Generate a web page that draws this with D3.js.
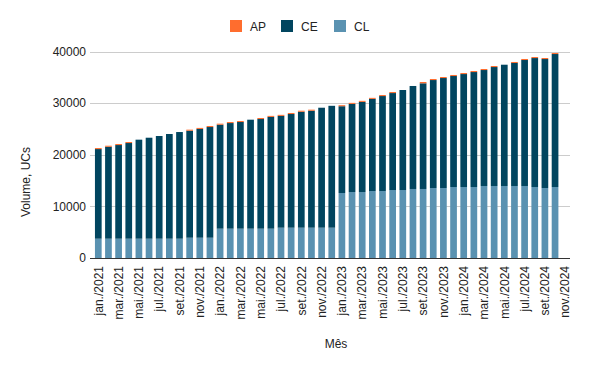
<!DOCTYPE html>
<meta charset="utf-8">
<style>
body { margin: 0; background: #fff; }
svg { font-family: "Liberation Sans", Arial, sans-serif; }
.grid line { stroke: #cccccc; shape-rendering: crispEdges; }
.grid path { stroke-width: 0; }
.tick text { fill: #222; font-size: 12px; }
.title { fill: #222; font-size: 12px; }
.legend text { fill: #222; font-size: 12px; }
</style>
<body>
<script src="https://d3js.org/d3.v7.min.js"></script>
<script>

var months = ["jan.", "fev.", "mar.", "abr.", "mai.", "jun.", "jul.", "ago.", "set.", "out.", "nov.", "dez."];
var years = [2021, 2022, 2023, 2024];

var categories = [];
years.forEach(function(y) {
    months.forEach(function(m) { categories.push(m + "/" + y); });
});
categories = categories.slice(0, 47); // jan./2021 .. nov./2024

// totals (nov./2024 has no data)
var total = [21300, 21750, 22080, 22470, 22920, 23300, 23630, 24020, 24400, 24860, 25200, 25570,
             26020, 26340, 26540, 26790, 27120, 27530, 27730, 28090, 28530, 28730, 29110, 29480,
             29600, 30050, 30440, 31020, 31570, 32150, 32540, 33320, 34090, 34670, 35060, 35450,
             35830, 36220, 36610, 37190, 37440, 37970, 38550, 38930, 38740, 39710, 0];

var CL = [3740, 3740, 3740, 3740, 3740, 3740, 3740, 3740, 3740, 3930, 3930, 3930,
          5680, 5680, 5680, 5680, 5680, 5680, 5870, 5870, 5870, 5870, 5870, 5870,
          12590, 12780, 12780, 12980, 12980, 13170, 13170, 13370, 13370, 13560, 13560, 13750,
          13750, 13750, 13950, 13950, 13950, 13950, 13950, 13750, 13560, 13750, 0];

var AP = [200, 200, 200, 200, 0, 0, 0, 0, 0, 200, 200, 200,
          200, 200, 200, 0, 200, 200, 200, 200, 200, 200, 0, 0,
          200, 200, 200, 200, 200, 200, 0, 0, 250, 200, 200, 200,
          200, 200, 200, 200, 0, 200, 200, 200, 200, 200, 0];

var CE = total.map(function(t, i) { return t === 0 ? 0 : t - CL[i] - AP[i]; });

var yTicks = [0, 10000, 20000, 30000, 40000];
var series = ["CL", "CE", "AP"];
var legendOrder = ["AP", "CE", "CL"];
var colors = {AP: "#ff6d2e", CE: "#01455f", CL: "#5a92b1"};

var data = categories.map(function(c, i) {
    return {month: c, CL: CL[i], CE: CE[i], AP: AP[i]};
});

var width = 600, height = 371;
var plot = {left: 90, right: 570, top: 51.5, bottom: 258};

var svg = d3.select("body").append("svg")
    .attr("width", width)
    .attr("height", height);

var x = d3.scaleBand()
    .domain(categories)
    .range([91.5, 572])
    .paddingInner(0.34)
    .paddingOuter(0.34);

var y = d3.scaleLinear()
    .domain([0, 40000])
    .range([plot.bottom, plot.top]);

// gridlines + y labels
svg.append("g")
    .attr("class", "grid")
    .attr("transform", "translate(" + plot.left + ",0)")
    .call(d3.axisLeft(y)
        .tickValues(yTicks)
        .tickSize(-(plot.right - plot.left))
        .tickPadding(5)
        .tickFormat(d3.format("d")))
    .call(function(g) { g.selectAll(".tick text").attr("x", -4); });

var stack = d3.stack().keys(series)(data);

svg.append("g")
    .selectAll("g")
    .data(stack)
    .enter().append("g")
    .attr("fill", function(d) { return colors[d.key]; })
    .selectAll("rect")
    .data(function(d) { return d; })
    .enter().append("rect")
    .attr("x", function(d) { return x(d.data.month); })
    .attr("width", x.bandwidth())
    .attr("y", function(d) { return y(d[1]); })
    .attr("height", function(d) { return y(d[0]) - y(d[1]); });

// baseline
svg.append("line")
    .attr("x1", plot.left)
    .attr("x2", plot.right)
    .attr("y1", plot.bottom + 0.5)
    .attr("y2", plot.bottom + 0.5)
    .attr("stroke", "#333")
    .attr("stroke-width", 1);

// x labels, every other month
svg.append("g")
    .selectAll("text")
    .data(categories.filter(function(d, i) { return i % 2 === 0; }))
    .enter().append("text")
    .attr("class", "tick")
    .attr("transform", function(d) {
        return "translate(" + (x(d) + x.bandwidth() / 2) + ",266) rotate(-90)";
    })
    .attr("dy", "0.35em")
    .attr("text-anchor", "end")
    .style("fill", "#222")
    .style("font-size", "12px")
    .text(function(d) { return d; });

// axis titles
svg.append("text")
    .attr("class", "title")
    .attr("transform", "translate(30,182) rotate(-90)")
    .attr("text-anchor", "middle")
    .text("Volume, UCs");

svg.append("text")
    .attr("class", "title")
    .attr("x", 336)
    .attr("y", 348)
    .attr("text-anchor", "middle")
    .text("Mês");

// legend
var legend = svg.append("g").attr("class", "legend");
var lx = [230, 281, 334];
legendOrder.forEach(function(k, i) {
    legend.append("rect")
        .attr("x", lx[i])
        .attr("y", 20)
        .attr("width", 12)
        .attr("height", 12)
        .attr("fill", colors[k]);
    legend.append("text")
        .attr("x", lx[i] + 20)
        .attr("y", 30.5)
        .text(k);
});

</script>
